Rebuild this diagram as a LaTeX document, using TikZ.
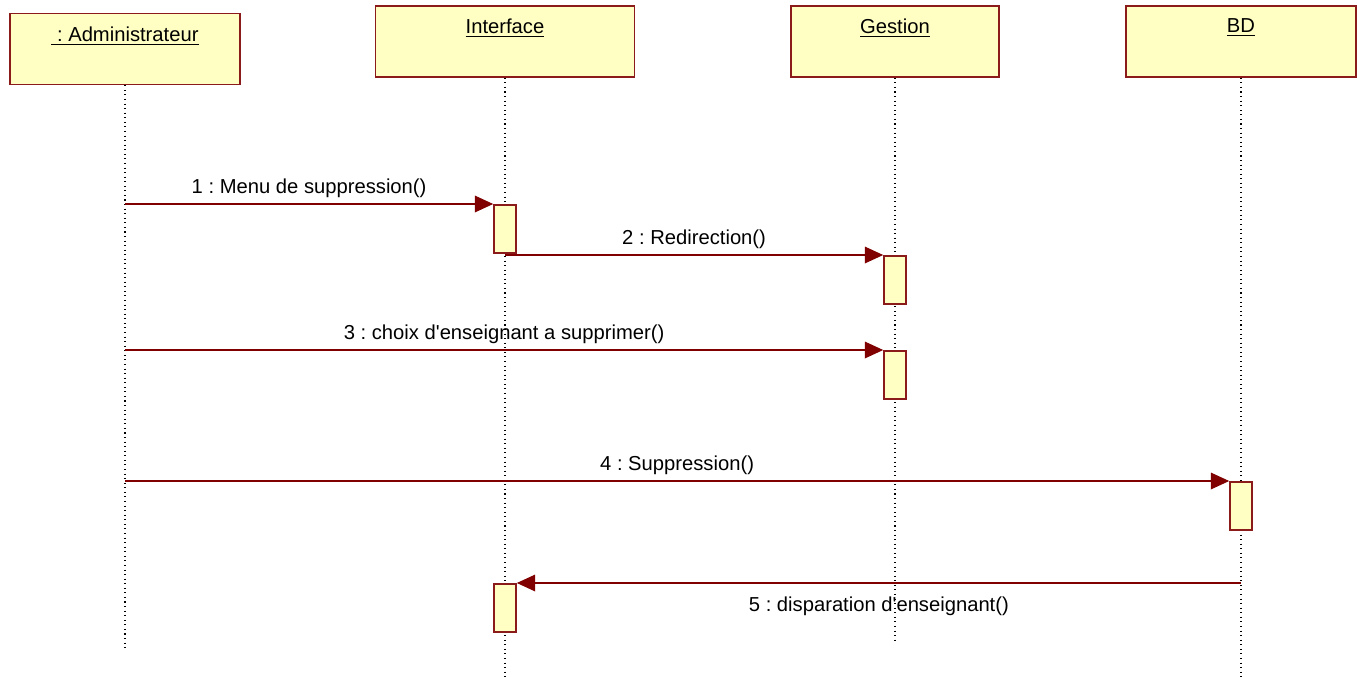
\documentclass[tikz,border=0pt]{standalone}
\usepackage{fontspec}
\setmainfont{Liberation Sans}
\usepackage{tikz}
\usetikzlibrary{positioning,calc,arrows.meta}
\definecolor{msgred}{HTML}{800000}
\definecolor{boxred}{HTML}{8B1A1A}
\definecolor{boxfill}{HTML}{FFFFC4}
\frenchspacing

\begin{document}
\begin{tikzpicture}[x=0.02cm,y=-0.02cm,
    objbox/.style={draw=boxred,fill=boxfill,line width=0.9pt,minimum height=1.42cm,inner sep=0pt},
    objname/.style={anchor=north,inner sep=0pt,font=\fontsize{11.5}{14}\selectfont},
    lifeline/.style={dotted,line width=0.6pt},
    actbox/.style={draw=boxred,fill=boxfill,line width=0.9pt,minimum width=0.44cm,minimum height=0.96cm,inner sep=0pt,anchor=north},
    msg/.style={msgred,line width=0.7pt,-{Triangle[length=10.5pt,width=9.5pt]}},
    msgtext/.style={font=\fontsize{11.5}{14}\selectfont,text=black}]
    \useasboundingbox (0,0) rectangle (1357,677);
    \node[objbox,minimum width=4.6cm] (admin) at (125,49) {};
    \node[objbox,minimum width=5.18cm] (iface) at (505,41.5) {};
    \node[objbox,minimum width=4.16cm] (gest) at (895,41.5) {};
    \node[objbox,minimum width=4.6cm] (bd) at (1241,41.5) {};
    \node[objname] (adminname) at ([yshift=-0.27cm]admin.north) {\underline{\ : Administrateur}};
    \node[objname] (ifacename) at ([yshift=-0.27cm]iface.north) {\underline{Interface}};
    \node[objname] (gestname) at ([yshift=-0.27cm]gest.north) {\underline{Gestion}};
    \node[objname] (bdname) at ([yshift=-0.27cm]bd.north) {\underline{BD}};
    \coordinate (adminend) at (125,650);
    \coordinate (ifaceend) at (505,677);
    \coordinate (gestend) at (895,642);
    \coordinate (bdend) at (1241,677);
    \draw[lifeline] (admin.south) -- (adminend);
    \draw[lifeline] (iface.south) -- (ifaceend);
    \draw[lifeline] (gest.south) -- (gestend);
    \draw[lifeline] (bd.south) -- (bdend);
    \node[actbox] (iact1) at (505,204) {};
    \node[actbox] (gact1) at (895,255) {};
    \node[actbox] (gact2) at (895,350) {};
    \node[actbox] (bact) at (1241,481) {};
    \node[actbox] (iact2) at (505,583) {};
    \draw[msg] (admin |- iact1.north) -- node[msgtext,above] {1 : Menu de suppression()} (iact1.north west);
    \draw[msg] (iact1.south |- gact1.north) -- node[msgtext,above] {2 : Redirection()} (gact1.north west);
    \draw[msg] (admin |- gact2.north) -- node[msgtext,above] {3 : choix d\textquotesingle enseignant a supprimer()} (gact2.north west);
    \draw[msg] (admin |- bact.north) -- node[msgtext,above] {4 : Suppression()} (bact.north west);
    \draw[msg] (bact |- iact2.north) -- node[msgtext,below=4pt] {5 : disparation d\textquotesingle enseignant()} (iact2.north east);
\end{tikzpicture}
\end{document}
